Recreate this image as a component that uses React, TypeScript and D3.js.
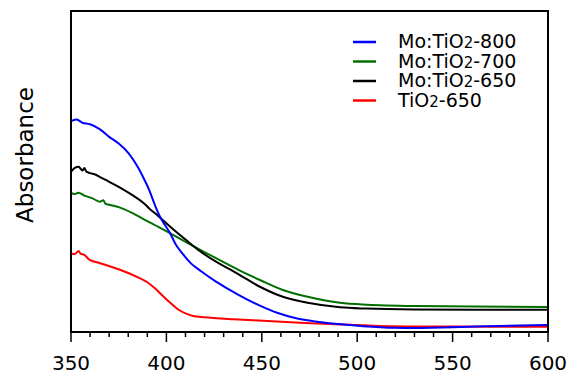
import React from "react";
import * as d3 from "d3";

const W = 570;
const H = 378;

// Wavelength (nm) / absorbance (a.u.) pairs
const wlBlue = [350, 353, 356, 360, 365, 370, 375, 380, 385, 389, 391, 394, 397, 402, 405, 409, 413, 418, 426, 438, 449, 458, 468, 478, 490, 503, 520, 550, 575, 600];
const absBlue = [0.657, 0.662, 0.652, 0.647, 0.632, 0.608, 0.587, 0.558, 0.514, 0.468, 0.442, 0.395, 0.355, 0.307, 0.272, 0.24, 0.213, 0.19, 0.157, 0.115, 0.082, 0.06, 0.043, 0.033, 0.025, 0.018, 0.013, 0.015, 0.019, 0.022];

const wlGreen = [350, 352, 354, 357, 361, 365, 367, 368, 371, 375, 382, 391, 396, 402, 410, 418, 426, 438, 449, 461, 474, 491, 505, 530, 600];
const absGreen = [0.433, 0.43, 0.434, 0.425, 0.417, 0.406, 0.41, 0.4, 0.395, 0.389, 0.371, 0.342, 0.327, 0.307, 0.281, 0.255, 0.23, 0.193, 0.162, 0.131, 0.11, 0.091, 0.085, 0.081, 0.078];

const wlBlack = [350, 352, 354, 356, 357, 358, 360, 363, 365, 370, 375, 382, 388, 391, 396, 402, 410, 418, 426, 437, 449, 461, 474, 491, 505, 530, 600];
const absBlack = [0.499, 0.511, 0.515, 0.503, 0.511, 0.5, 0.495, 0.49, 0.483, 0.468, 0.452, 0.427, 0.402, 0.385, 0.36, 0.328, 0.288, 0.25, 0.219, 0.183, 0.141, 0.11, 0.091, 0.077, 0.073, 0.07, 0.069];

const wlRed = [350, 352, 354, 355, 357, 360, 365, 376, 386, 390, 394, 398, 402, 406, 410, 414, 420, 435, 453, 470, 486, 512, 550, 600];
const absRed = [0.246, 0.243, 0.252, 0.244, 0.24, 0.224, 0.215, 0.193, 0.168, 0.155, 0.136, 0.113, 0.091, 0.071, 0.058, 0.05, 0.046, 0.04, 0.034, 0.029, 0.025, 0.019, 0.017, 0.016];

const seriesNames = ["Mo:TiO2-800", "Mo:TiO2-700", "Mo:TiO2-650", "TiO2-650"];
const seriesColors = ["#0000ff", "#006f00", "#000000", "#ff0000"];
const xTicks = [350, 400, 450, 500, 550, 600];
const xMinorTicks = d3.range(350, 601, 10);

const margin = { left: 71, right: 22, top: 11, bottom: 46 };

function LegendLabel({ name }: { name: string }) {
  const idx = name.indexOf("2");
  const a = name.slice(0, idx);
  const b = name.slice(idx + 1);
  return (
    <>
      {a}
      <tspan fontSize={15}>2</tspan>
      {b}
    </>
  );
}

export default function App() {
  const x = d3.scaleLinear().domain([350, 600]).range([margin.left, W - margin.right]);
  const y = d3.scaleLinear().domain([0, 1]).range([H - margin.bottom, margin.top]);

  const data = [
    wlBlue.map((w, i) => [w, absBlue[i]] as [number, number]),
    wlGreen.map((w, i) => [w, absGreen[i]] as [number, number]),
    wlBlack.map((w, i) => [w, absBlack[i]] as [number, number]),
    wlRed.map((w, i) => [w, absRed[i]] as [number, number]),
  ];
  const line = d3
    .line<[number, number]>()
    .x((d) => x(d[0]))
    .y((d) => y(d[1]))
    .curve(d3.curveCatmullRom.alpha(0.5));

  const order = [3, 1, 2, 0];
  const x0 = margin.left;
  const x1 = W - margin.right;
  const y0 = margin.top;
  const y1 = H - margin.bottom;
  const font = "DejaVu Sans, sans-serif";

  return (
    <svg width={W} height={H} style={{ position: "absolute", left: 0, top: 0 }} fontFamily={font}>
      <rect x={0} y={0} width={W} height={H} fill="#fff" />
      <defs>
        <clipPath id="plotclip">
          <rect x={x0} y={y0} width={x1 - x0} height={y1 - y0} />
        </clipPath>
      </defs>
      <g clipPath="url(#plotclip)">
        {order.map((i) => (
          <path key={i} d={line(data[i]) || ""} fill="none" stroke={seriesColors[i]} strokeWidth={2} strokeLinejoin="round" />
        ))}
      </g>
      <rect x={x0} y={y0} width={x1 - x0} height={y1 - y0} fill="none" stroke="#000" strokeWidth={2} />
      {xMinorTicks.map((t) => (
        <line key={"m" + t} x1={x(t)} x2={x(t)} y1={y1} y2={y1 + (xTicks.includes(t) ? 10 : 5)} stroke="#000" strokeWidth={1.5} />
      ))}
      {xTicks.map((t) => (
        <text key={t} x={x(t)} y={370} textAnchor="middle" fontSize={20} fill="#000">
          {t}
        </text>
      ))}
      <text transform={`translate(33,155) rotate(-90)`} textAnchor="middle" fontSize={23} fill="#000">
        Absorbance
      </text>
      {seriesNames.map((n, i) => (
        <g key={n}>
          <line x1={353} x2={376} y1={42 + i * 19.5} y2={42 + i * 19.5} stroke={seriesColors[i]} strokeWidth={2.5} />
          <text x={398} y={48 + i * 19.5} fontSize={19} fill="#000">
            <LegendLabel name={n} />
          </text>
        </g>
      ))}
    </svg>
  );
}
